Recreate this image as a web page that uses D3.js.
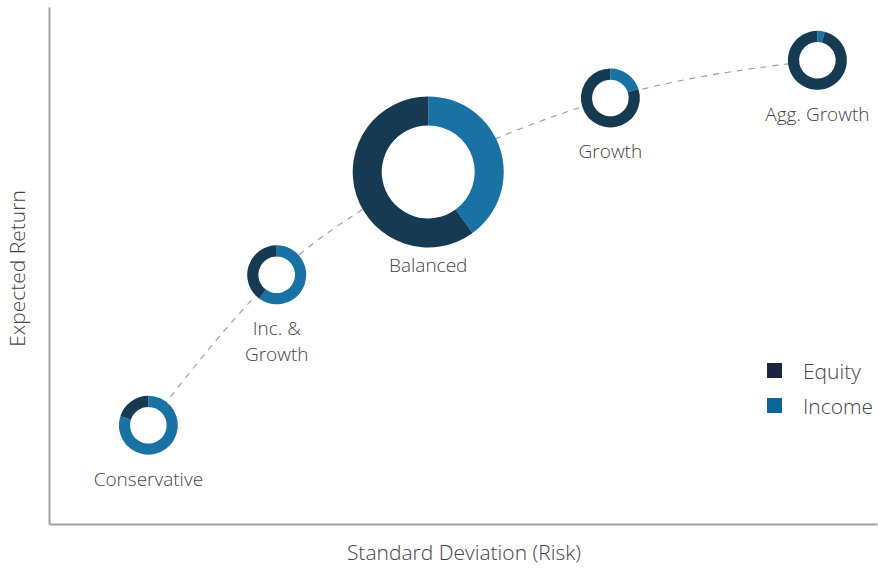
<!DOCTYPE html>
<html>
<head>
<meta charset="utf-8">
<script src="https://cdn.jsdelivr.net/npm/d3@7"></script>
<style>
  html, body { margin: 0; padding: 0; background: #ffffff; }
  svg { display: block; }
  text { font-family: "Open Sans", "Noto Sans", sans-serif; font-weight: 300; fill: #444444; }
</style>
</head>
<body>
<svg id="chart" width="878" height="569"></svg>
<script>
// ---- data ----
const portfolios = ["Conservative", "Inc. & Growth", "Balanced", "Growth", "Agg. Growth"];
const portfolioLabels = [["Conservative"], ["Inc. &", "Growth"], ["Balanced"], ["Growth"], ["Agg. Growth"]];
const risk = [12.0, 27.5, 45.8, 67.8, 92.8];            // standard deviation (relative units)
const expectedReturn = [19.1, 48.2, 68.1, 82.4, 89.7];  // expected return (relative units)
const equity = [20, 40, 60, 80, 96];
const income = [80, 60, 40, 20, 4];
const seriesNames = ["Equity", "Income"];
const highlighted = "Balanced";
const xAxisTitle = "Standard Deviation (Risk)";
const yAxisTitle = "Expected Return";

// ---- layout ----
const W = 878, H = 569;
const plot = { left: 49, right: 877, top: 7, bottom: 524 };
const colors = { Equity: "#173a53", Income: "#1a71a4" };
const legendColors = { Equity: "#1b2541", Income: "#0e6597" };

const svg = d3.select("#chart");

const x = d3.scaleLinear().domain([0, 100]).range([plot.left, plot.right]);
const y = d3.scaleLinear().domain([0, 100]).range([plot.bottom, plot.top]);

// axes (lines only, no ticks)
const xAxis = d3.axisBottom(x).tickValues([]).tickSizeOuter(0);
const yAxis = d3.axisLeft(y).tickValues([]).tickSizeOuter(0);
svg.append("g").attr("transform", `translate(0,${plot.bottom})`).call(xAxis)
  .select(".domain").attr("stroke", "#a0a0a0").attr("stroke-width", 2);
svg.append("g").attr("transform", `translate(${plot.left},0)`).call(yAxis)
  .select(".domain").attr("stroke", "#a0a0a0").attr("stroke-width", 2);

// axis titles
svg.append("text")
  .attr("x", 464)
  .attr("y", 560)
  .attr("text-anchor", "middle")
  .attr("font-size", 21)
  .text(xAxisTitle);
svg.append("text")
  .attr("transform", `translate(25,${(plot.top + plot.bottom) / 2 + 3}) rotate(-90)`)
  .attr("text-anchor", "middle")
  .attr("font-size", 21)
  .text(yAxisTitle);

// data rows
const rows = portfolios.map((name, i) => ({
  name, lines: portfolioLabels[i], risk: risk[i], ret: expectedReturn[i],
  parts: [{ key: "Income", value: income[i] }, { key: "Equity", value: equity[i] }]
}));

// dashed frontier curve through the portfolios
const line = d3.line().x(d => x(d.risk)).y(d => y(d.ret)).curve(d3.curveMonotoneX);
svg.append("path")
  .datum(rows)
  .attr("d", line)
  .attr("fill", "none")
  .attr("stroke", "#9a9a9a")
  .attr("stroke-width", 1.1)
  .attr("stroke-dasharray", "6,6");

// donuts
const pie = d3.pie().sort(null).value(d => d.value);
rows.forEach(r => {
  const big = r.name === highlighted;
  const outer = big ? 75.5 : 29.5;
  const inner = big ? 46.5 : 18.3;
  const arc = d3.arc().innerRadius(inner).outerRadius(outer);
  const g = svg.append("g").attr("transform", `translate(${x(r.risk)},${y(r.ret)})`);
  g.append("circle").attr("r", inner).attr("fill", "#ffffff");
  g.selectAll("path").data(pie(r.parts)).join("path")
    .attr("d", arc)
    .attr("fill", d => colors[d.data.key]);
  const base = outer + (big ? 25 : 31);
  r.lines.forEach((t, k) => {
    g.append("text")
      .attr("x", 0)
      .attr("y", base + k * 26)
      .attr("text-anchor", "middle")
      .attr("font-size", 19)
      .text(t);
  });
});

// legend
const legend = svg.append("g").attr("transform", "translate(767,363)");
seriesNames.forEach((s, i) => {
  const gi = legend.append("g").attr("transform", `translate(0,${i * 35})`);
  gi.append("rect").attr("width", 15).attr("height", 15).attr("fill", legendColors[s]);
  gi.append("text").attr("x", 36).attr("y", 15.5).attr("font-size", 21).text(s);
});
</script>
</body>
</html>
